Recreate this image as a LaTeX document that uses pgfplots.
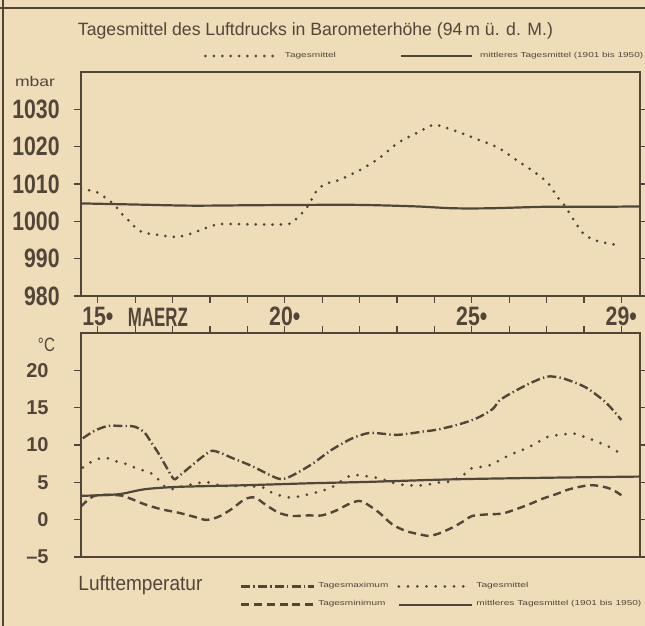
\documentclass[border=0pt]{standalone}
\usepackage{graphicx}
\usepackage{fontspec}
\setmainfont{Liberation Sans}
\newfontfamily\condfont{Liberation Sans}[FakeStretch=0.8]
\usepackage{pgfplots}
\pgfplotsset{compat=1.18}
\definecolor{bg}{RGB}{239,221,186}
\definecolor{ink}{RGB}{82,70,57}
\newcommand{\fitw}[2]{\resizebox{#1}{\height}{#2}}
\newcommand{\lgt}[2]{\resizebox{#1}{\height}{\fontsize{3.6}{4}\selectfont #2}}
\newcommand{\tickA}{\condfont\bfseries\fontsize{13.3}{14}\selectfont}
\newcommand{\tickB}{\bfseries\fontsize{10}{11}\selectfont}
\pgfplotsset{
  chartaxis/.style={
    scale only axis, width=279.5pt, height=112pt,
    xmin=14.55, xmax=29.5,
    axis line style={ink, line width=1pt},
    tick style={ink, line width=0.6pt},
    tick align=outside,
    major tick length=3.5pt,
    xtick={15,...,29},
    legend cell align=left,
  },
  pdot/.style={ink, line width=1.5pt, line cap=round, dash pattern=on 0pt off 4.2pt},
  tdot/.style={ink, line width=1.5pt, line cap=round, dash pattern=on 0pt off 4.6pt},
  tdash/.style={ink, line width=1.2pt, dash pattern=on 4pt off 2.4pt},
  tdashdot/.style={ink, line width=1.2pt, dash pattern=on 4.5pt off 1.6pt on 0.7pt off 1.6pt},
  tsolid/.style={ink, line width=1.1pt},
}
\begin{document}
\begin{tikzpicture}
\fill[bg] (0,0) rectangle (322.5pt,313pt);
\draw[ink, line width=1pt] (1.5pt,0pt) -- (1.5pt,313pt);
\draw[ink, line width=1pt] (0pt,309pt) -- (322.5pt,309pt);
\node[ink, anchor=base, inner sep=0pt] at (157.75pt,295pt) {\fitw{237.5pt}{\fontsize{8.9}{10}\selectfont Tagesmittel des Luftdrucks in Barometerhöhe (94\,m ü. d. M.)}};
\node[ink, inner sep=0pt] at (17.5pt,272pt) {\fitw{20pt}{\fontsize{7}{8}\selectfont mbar}};
\node[ink, inner sep=0pt] at (23.25pt,140.5pt) {\fitw{8.5pt}{\fontsize{9.6}{10}\selectfont °C}};
\node[ink, anchor=base west, inner sep=0pt] at (39pt,17.5pt) {\fitw{62pt}{\fontsize{10.3}{11}\selectfont Lufttemperatur}};
\node[ink, anchor=north west, inner sep=0pt] at (63.8pt,159pt) {\fitw{30pt}{\tickA MAERZ}};

% ---------------- pressure ----------------
\begin{axis}[chartaxis,
  at={(40.5pt,165pt)}, anchor=south west,
  ymin=980, ymax=1040,
  ytick={980,990,...,1030},
  yticklabels={980,990,1000,1010,1020,1030},
  xtick pos=left,
  xticklabels={15•,,,,,20•,,,,,25•,,,,29•},
  yticklabel style={font=\tickA, text=ink, anchor=east, inner sep=0pt, xshift=-7pt},
  xticklabel style={font=\tickA, text=ink, anchor=north, inner sep=0pt, yshift=-2pt},
  legend columns=2,
  legend style={at={(rel axis cs:0.22,1.0714)}, anchor=west, draw=none, fill=none,
    inner sep=0pt, outer sep=0pt, nodes={inner sep=0pt, text=ink},
    /tikz/every odd column/.append style={column sep=3.5pt},
    /tikz/every even column/.append style={column sep=32pt}},
  legend image code/.code={\draw[#1] (0pt,0pt) -- (35.5pt,0pt);},
]
\addplot[pdot, smooth] coordinates {
(14.55,1008.8) (14.78,1008.3) (14.96,1007.9) (15.13,1006.8) (15.31,1005.6)
(15.49,1003.9) (15.63,1002.1) (15.80,1000.5) (15.94,999.0) (16.10,997.6)
(16.25,996.9) (16.65,996.3) (17.10,995.8) (17.46,996.6) (17.86,998.1)
(18.26,999.25) (19.02,999.2) (20.05,999.2) (20.27,1000.4) (20.41,1001.6)
(20.65,1004.5) (20.76,1006.8) (20.92,1008.9) (21.12,1010.1) (21.43,1011.0)
(21.72,1012.3) (22.02,1013.8) (22.52,1016.9) (23.01,1020.9) (23.48,1023.4)
(23.96,1025.8) (24.21,1025.4) (24.70,1023.7) (25.20,1021.8) (25.73,1019.6)
(26.18,1016.5) (26.63,1013.5) (27.03,1010.35) (27.30,1006.4) (27.48,1004.3)
(27.72,1000.5) (27.98,996.75) (28.28,995.0) (28.64,994.1) (29.00,993.5)
};
\addlegendentry{\lgt{25.5pt}{Tagesmittel}}
\addplot[tsolid, smooth] coordinates {
(14.55,1004.8) (16,1004.5) (17.5,1004.2) (19,1004.3) (20.5,1004.4) (22,1004.4)
(23.5,1004.0) (24.5,1003.5) (25.5,1003.5) (27,1003.9) (28.5,1003.9) (29.5,1004.0)
};
\addlegendentry{\lgt{81.5pt}{mittleres Tagesmittel (1901 bis 1950)}}
\end{axis}

% ---------------- temperature ----------------
\begin{axis}[chartaxis,
  at={(40.5pt,34.5pt)}, anchor=south west,
  ymin=-5, ymax=25,
  ytick={-5,0,...,20},
  yticklabels={–5,0,5,10,15,20},
  xtick pos=right,
  xticklabels={},
  yticklabel style={font=\tickB, text=ink, anchor=east, inner sep=0pt, xshift=-12.5pt},
  legend columns=2,
  legend style={at={(rel axis cs:0.2844,-0.172)}, anchor=west, draw=none, fill=none,
    inner sep=0pt, outer sep=0pt, row sep=5pt, nodes={inner sep=0pt, text=ink},
    /tikz/every odd column/.append style={column sep=1.5pt},
    /tikz/every even column/.append style={column sep=4.5pt}},
  legend image code/.code={\draw[#1] (0pt,0pt) -- (36.5pt,0pt);},
]
\addplot[tdashdot, smooth] coordinates {
(14.6,10.9) (14.91,11.9) (15.27,12.55) (15.63,12.55) (15.98,12.46) (16.25,11.66)
(16.43,10.32) (16.61,8.98) (16.79,7.42) (16.97,5.86) (17.06,5.41) (17.23,6.08)
(17.50,7.2) (17.77,8.31) (18.04,9.21) (18.31,8.89) (18.57,8.31) (19.11,7.2)
(19.65,5.86) (19.91,5.41) (20.18,5.86) (20.72,7.42) (21.25,9.34) (21.79,10.86)
(22.24,11.6) (22.6,11.52) (22.96,11.35) (23.32,11.52) (23.68,11.79) (24.03,12.02)
(24.57,12.64) (25.11,13.53) (25.55,14.78) (25.73,15.9) (26.0,16.79) (26.54,18.22)
(26.98,19.12) (27.25,19.12) (27.52,18.8) (28.06,17.68) (28.59,15.67) (29.0,13.36)
};
\addlegendentry{\lgt{35pt}{Tagesmaximum}}
\addplot[tdot, smooth] coordinates {
(14.6,6.98) (14.87,7.87) (15.18,8.31) (15.45,7.87) (15.72,7.51) (15.98,6.98)
(16.25,6.53) (16.52,5.95) (16.74,4.61) (16.97,4.07) (17.14,4.3) (17.41,4.61)
(17.68,4.88) (17.9,5.06) (18.13,4.74) (18.4,4.52) (18.93,4.52) (19.42,4.3)
(19.65,3.63) (19.91,3.19) (20.18,2.96) (20.45,3.19) (20.72,3.49) (20.99,3.85)
(21.25,4.3) (21.52,5.19) (21.79,5.95) (22.06,5.9) (22.52,5.54) (23.05,4.74)
(23.68,4.61) (24.21,5.06) (24.44,5.1) (24.8,6.08) (24.97,6.84) (25.47,7.28)
(26.0,8.62) (26.54,9.74) (27.03,11.08) (27.48,11.43) (27.7,11.57) (28.14,10.86)
(28.68,9.74) (29.0,8.76)
};
\addlegendentry{\lgt{26pt}{Tagesmittel}}
\addplot[tdash, smooth] coordinates {
(14.55,1.75) (14.91,3.19) (15.54,3.27) (15.8,2.96) (16.25,2.06) (16.7,1.39)
(17.14,0.95) (17.59,0.37) (17.9,-0.03) (18.22,0.37) (18.57,1.39) (18.93,2.73)
(19.2,2.96) (19.47,2.06) (19.83,0.95) (20.18,0.5) (20.63,0.57) (20.99,0.57)
(21.35,1.17) (21.7,2.06) (21.97,2.51) (22.16,2.2) (22.52,0.95) (22.87,-0.61)
(23.23,-1.5) (23.59,-1.95) (23.86,-2.17) (24.12,-1.86) (24.48,-1.06) (24.75,-0.3)
(25.02,0.5) (25.47,0.72) (25.82,0.82) (26.18,1.39) (26.54,2.06) (26.9,2.82)
(27.25,3.4) (27.61,4.07) (28.14,4.61) (28.5,4.43) (28.77,4.0) (29.0,3.27)
};
\addlegendentry{\lgt{33.5pt}{Tagesminimum}}
\addplot[tsolid, smooth] coordinates {
(14.55,3.19) (15.54,3.4) (16.25,4.07) (17.14,4.39) (18.93,4.61) (20.72,4.88)
(22.24,5.06) (24.57,5.41) (27.25,5.63) (29.5,5.77)
};
\addlegendentry{\lgt{82.5pt}{mittleres Tagesmittel (1901 bis 1950)}}
\end{axis}
\pgfresetboundingbox
\path[use as bounding box] (0,0) rectangle (322.5pt,313pt);
\end{tikzpicture}
\end{document}
